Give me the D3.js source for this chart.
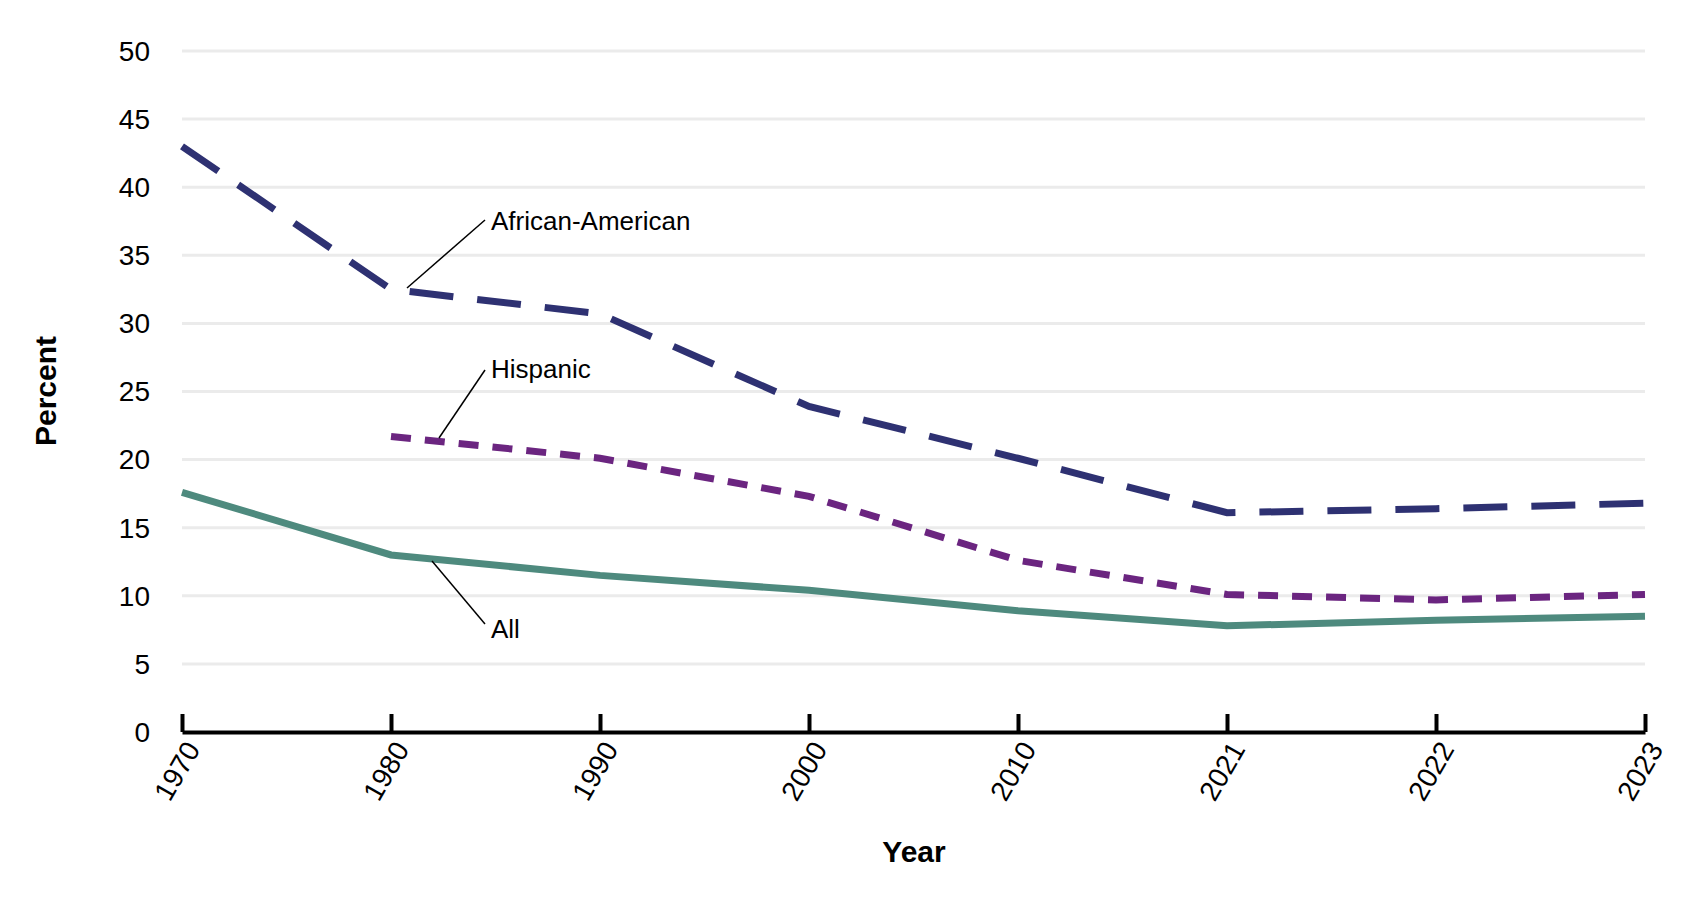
<!DOCTYPE html>
<html><head><meta charset="utf-8">
<script src="https://cdn.jsdelivr.net/npm/d3@7"></script>
<style>body{margin:0;background:#fff}text{font-family:Arial,"Liberation Sans",sans-serif}</style>
</head><body><svg id="c" width="1700" height="904"></svg>
<script>
const years = ["1970","1980","1990","2000","2010","2021","2022","2023"];
const africanAmerican = [43.0,32.5,30.7,23.9,20.1,16.1,16.4,16.8];
const hispanic = [null,21.7,20.1,17.3,12.6,10.1,9.7,10.1];
const all = [17.6,13.0,11.5,10.4,8.9,7.8,8.2,8.5];
const yTicks = [0,5,10,15,20,25,30,35,40,45,50];

const svg = d3.select("#c");
const x = d3.scalePoint().domain(years).range([182,1645]);
const y = d3.scaleLinear().domain([0,50]).range([732,51]);

// gridlines
svg.append("g").selectAll("line").data(yTicks.slice(1)).join("line")
  .attr("x1",182).attr("x2",1645).attr("y1",d=>y(d)).attr("y2",d=>y(d))
  .attr("stroke","#ebebeb").attr("stroke-width",3);

// y labels
svg.append("g").selectAll("text").data(yTicks).join("text")
  .attr("x",150).attr("y",d=>y(d)).attr("dy","0.35em").attr("text-anchor","end")
  .attr("font-size",28).text(d=>d);

// x axis
const xa = svg.append("g").attr("transform","translate(0,732)")
  .call(d3.axisBottom(x).tickSize(-18).tickSizeOuter(0));
xa.select(".domain").attr("stroke","#000").attr("stroke-width",4);
xa.selectAll(".tick line").attr("stroke","#000").attr("stroke-width",4);
xa.selectAll(".tick text").attr("font-size",28).attr("fill","#000")
  .attr("text-anchor","end").attr("transform","translate(10,12) rotate(-60)").attr("dy","0.35em").attr("y",0).attr("x",0);

const series = [
  {v:africanAmerican,c:"#2e3172",dash:"44,24"},
  {v:hispanic,c:"#6b2580",dash:"20,14"},
  {v:all,c:"#4e8a7e",dash:null}
];
const line = d3.line().defined(d=>d.v!=null).x(d=>x(d.y)).y(d=>y(d.v));
series.forEach(s=>{
  svg.append("path").datum(years.map((yy,i)=>({y:yy,v:s.v[i]})))
    .attr("d",line).attr("fill","none").attr("stroke",s.c).attr("stroke-width",7)
    .attr("stroke-dasharray",s.dash);
});

// annotations
const notes = [
  {t:"African-American",tx:491,ty:221,l:[485,220,407,288]},
  {t:"Hispanic",tx:491,ty:369,l:[485,370,439,438]},
  {t:"All",tx:491,ty:629,l:[485,624,432,561]}
];
notes.forEach(n=>{
  svg.append("line").attr("x1",n.l[0]).attr("y1",n.l[1]).attr("x2",n.l[2]).attr("y2",n.l[3])
    .attr("stroke","#000").attr("stroke-width",1.5);
  svg.append("text").attr("x",n.tx).attr("y",n.ty).attr("dy","0.35em").attr("font-size",26).text(n.t);
});

svg.append("text").attr("x",914).attr("y",862).attr("text-anchor","middle")
  .attr("font-size",30).attr("font-weight","bold").text("Year");
svg.append("text").attr("transform","translate(56,391) rotate(-90)").attr("text-anchor","middle")
  .attr("font-size",30).attr("font-weight","bold").text("Percent");
</script></body></html>
